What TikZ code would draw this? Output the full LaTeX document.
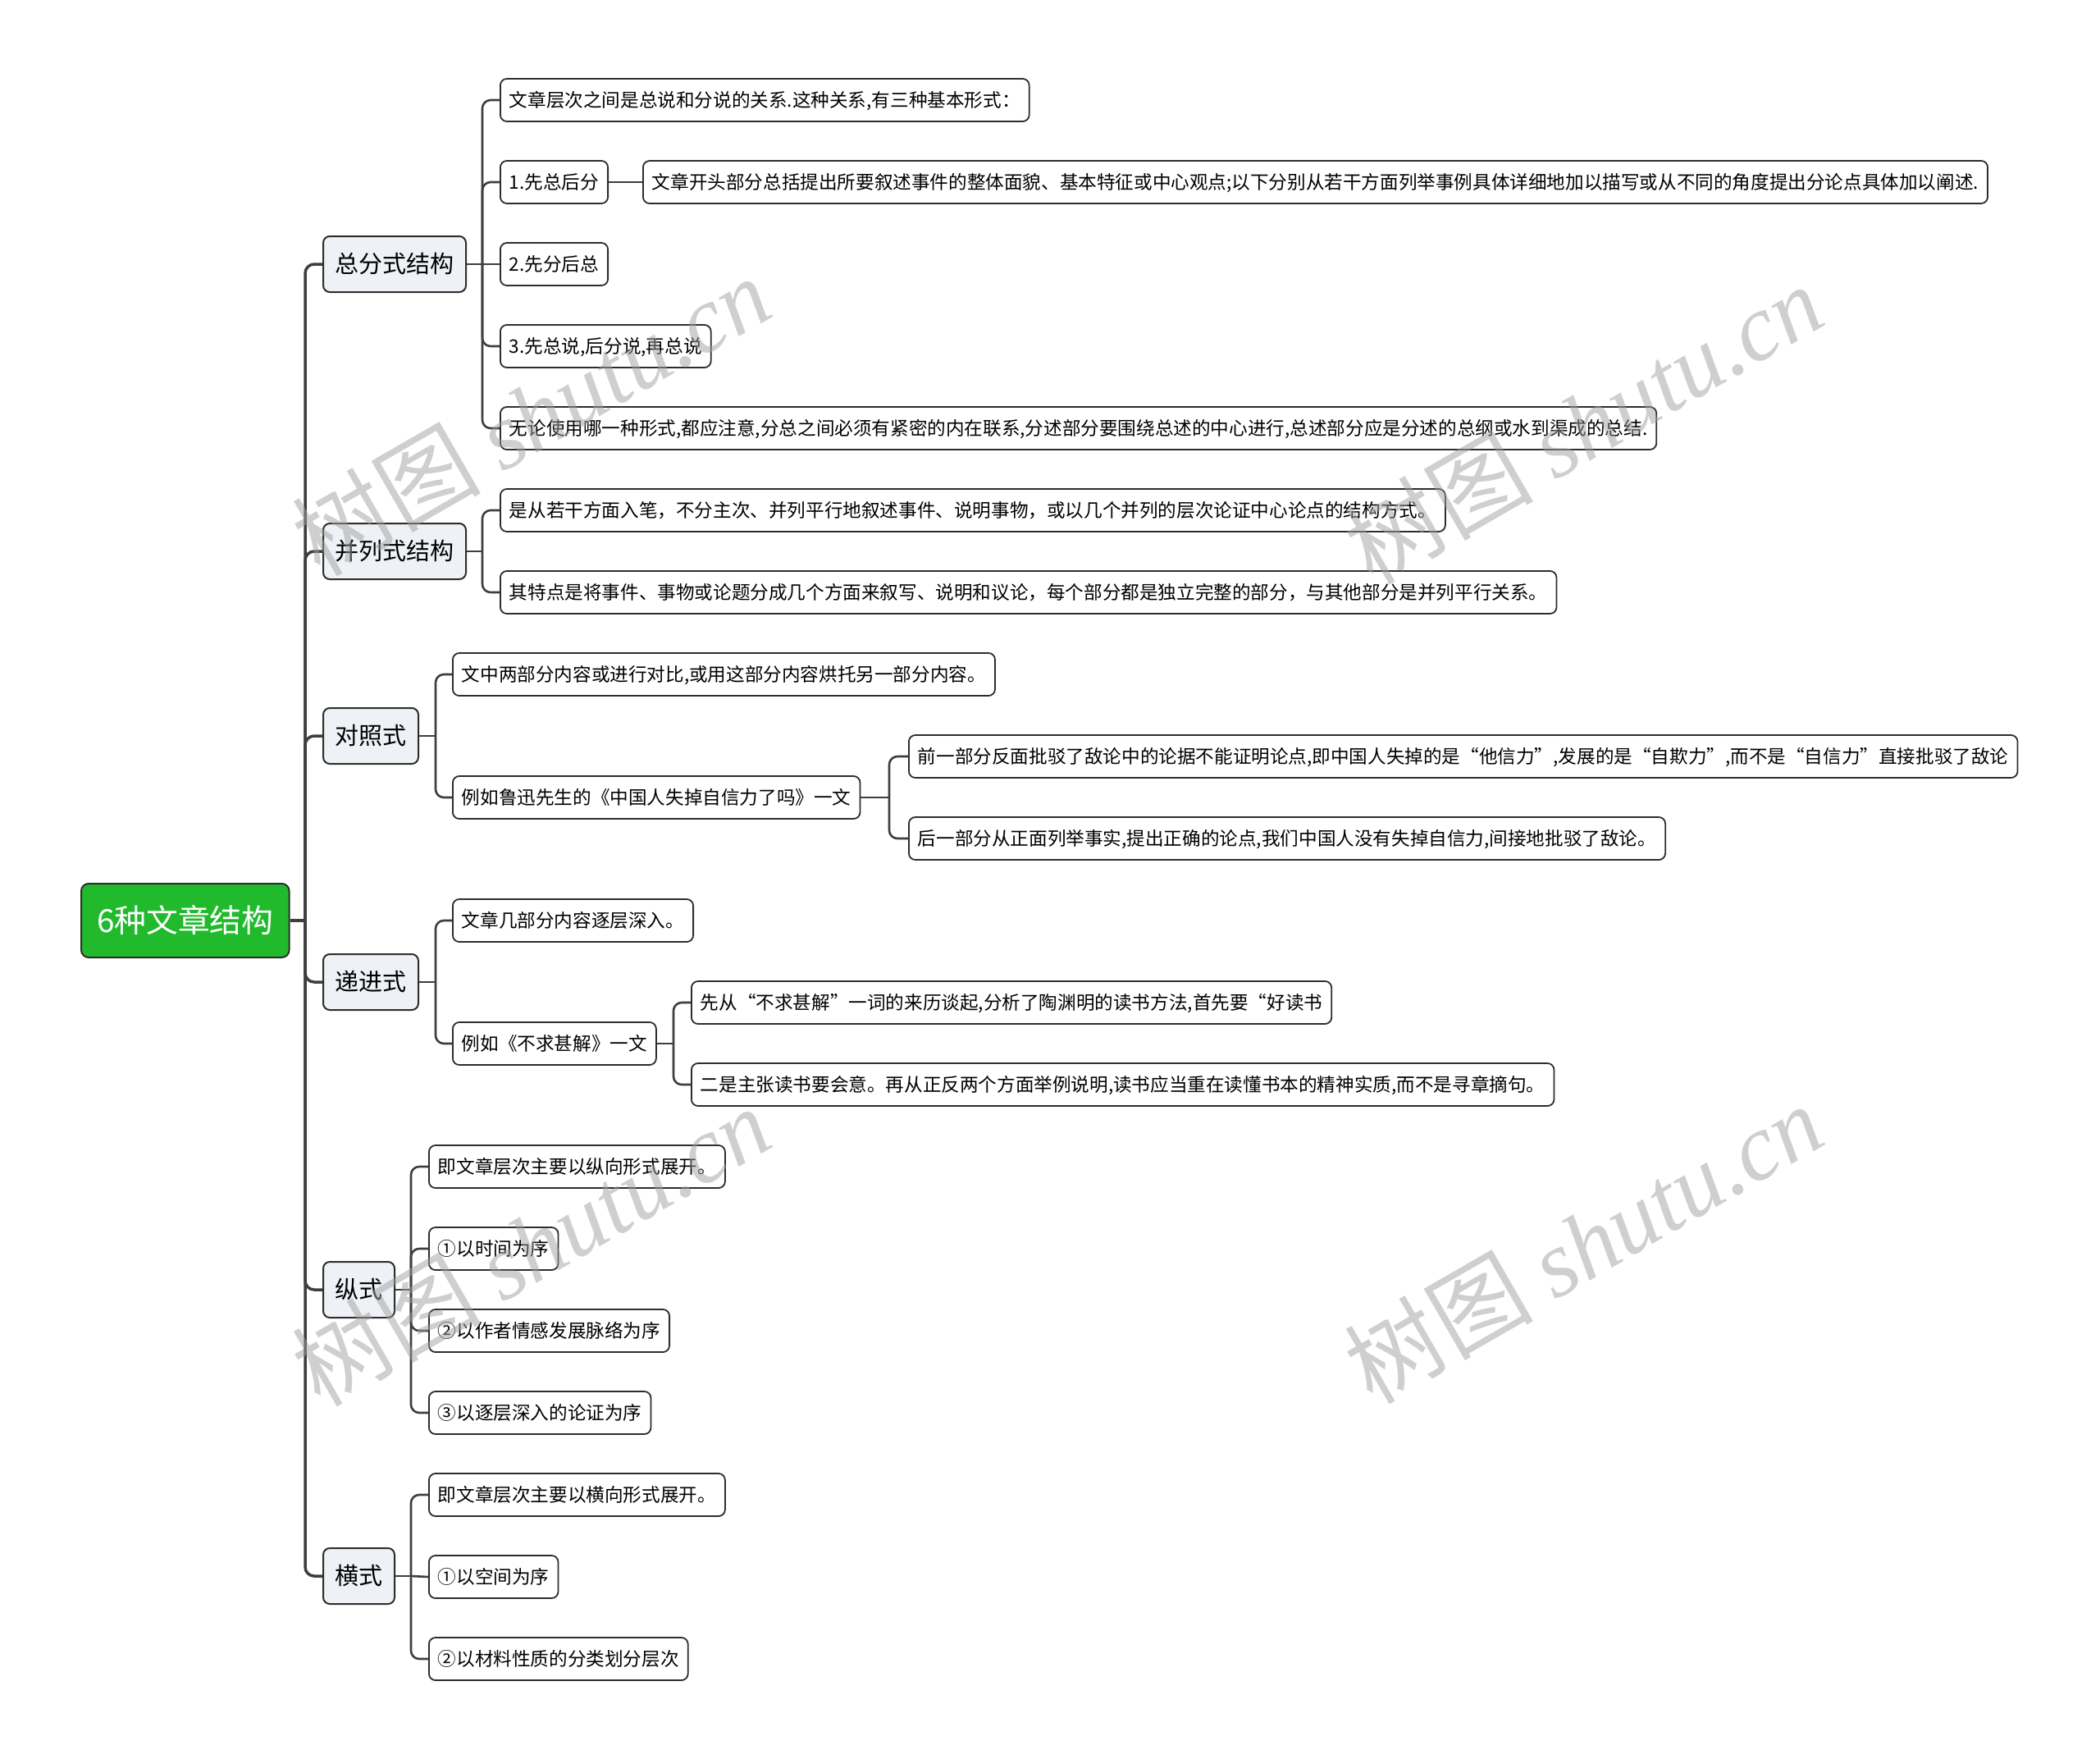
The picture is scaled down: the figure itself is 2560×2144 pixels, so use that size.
\documentclass[tikz,border=0pt]{standalone}
\usepackage{fontspec}
\newfontfamily\cjk{Noto Sans CJK SC}
\newfontfamily\wmserif{Liberation Serif}
\usetikzlibrary{positioning}
\definecolor{rootgreen}{RGB}{32,186,44}
\definecolor{topicfill}{RGB}{238,242,246}
\definecolor{linegray}{RGB}{62,62,62}
\definecolor{boxline}{RGB}{45,45,45}
\definecolor{wmgray}{RGB}{160,160,160}

\begin{document}
\begin{tikzpicture}[x=1pt,y=-1pt,
  rootbox/.style={draw=boxline,line width=2pt,fill=rootgreen,rounded corners=9pt,anchor=west,
    minimum height=90pt,inner xsep=19pt,text=white,font=\cjk\fontsize{38.8}{44}\selectfont,
    text height=33.4pt,text depth=4.7pt},
  topic/.style={draw=boxline,line width=2pt,fill=topicfill,rounded corners=8pt,anchor=west,
    minimum height=68pt,inner xsep=14.5pt,font=\cjk\fontsize{29}{34}\selectfont,
    text height=25pt,text depth=3.5pt},
  leaf/.style={draw=boxline,line width=1.8pt,fill=white,rounded corners=8pt,anchor=west,
    minimum height=52pt,inner xsep=11pt,font=\cjk\fontsize{22.6}{27}\selectfont,
    text height=19.4pt,text depth=2.7pt},
  trunk/.style={draw=linegray,line width=3.5pt,rounded corners=11pt},
  link/.style={draw=linegray,line width=2.6pt,rounded corners=10pt},
  wmark/.style={text=wmgray,opacity=0.5,rotate=30,font=\fontsize{115}{120}\selectfont}]
  \useasboundingbox (0,0) rectangle (2560,2144);

  \node[rootbox] (root) at (98,1122) {6种文章结构};

  \node[topic] (zf) at (393,322) {总分式结构};
  \node[topic] (bl) at (393,672) {并列式结构};
  \node[topic] (dz) at (393,897) {对照式};
  \node[topic] (dj) at (393,1197) {递进式};
  \node[topic] (zs) at (393,1572) {纵式};
  \node[topic] (hs) at (393,1921) {横式};

  \node[leaf] (zf1) at (609,122) {文章层次之间是总说和分说的关系.这种关系,有三种基本形式：};
  \node[leaf] (zf2) at (609,222) {1.先总后分};
  \node[leaf] (zf2a) at (783,222) {文章开头部分总括提出所要叙述事件的整体面貌、基本特征或中心观点;以下分别从若干方面列举事例具体详细地加以描写或从不同的角度提出分论点具体加以阐述.};
  \node[leaf] (zf3) at (609,322) {2.先分后总};
  \node[leaf] (zf4) at (609,422) {3.先总说,后分说,再总说};
  \node[leaf] (zf5) at (609,522) {无论使用哪一种形式,都应注意,分总之间必须有紧密的内在联系,分述部分要围绕总述的中心进行,总述部分应是分述的总纲或水到渠成的总结.};

  \node[leaf] (bl1) at (609,622) {是从若干方面入笔，不分主次、并列平行地叙述事件、说明事物，或以几个并列的层次论证中心论点的结构方式。};
  \node[leaf] (bl2) at (609,722) {其特点是将事件、事物或论题分成几个方面来叙写、说明和议论，每个部分都是独立完整的部分，与其他部分是并列平行关系。};

  \node[leaf] (dz1) at (551,822) {文中两部分内容或进行对比,或用这部分内容烘托另一部分内容。};
  \node[leaf] (dz2) at (551,972) {例如鲁迅先生的《中国人失掉自信力了吗》一文};
  \node[leaf] (dz2a) at (1107,922) {前一部分反面批驳了敌论中的论据不能证明论点,即中国人失掉的是“他信力”,发展的是“自欺力”,而不是“自信力”直接批驳了敌论};
  \node[leaf] (dz2b) at (1107,1022) {后一部分从正面列举事实,提出正确的论点,我们中国人没有失掉自信力,间接地批驳了敌论。};

  \node[leaf] (dj1) at (551,1122) {文章几部分内容逐层深入。};
  \node[leaf] (dj2) at (551,1272) {例如《不求甚解》一文};
  \node[leaf] (dj2a) at (842,1222) {先从“不求甚解”一词的来历谈起,分析了陶渊明的读书方法,首先要“好读书};
  \node[leaf] (dj2b) at (842,1322) {二是主张读书要会意。再从正反两个方面举例说明,读书应当重在读懂书本的精神实质,而不是寻章摘句。};

  \node[leaf] (zs1) at (522,1422) {即文章层次主要以纵向形式展开。};
  \node[leaf] (zs2) at (522,1522) {①以时间为序};
  \node[leaf] (zs3) at (522,1622) {②以作者情感发展脉络为序};
  \node[leaf] (zs4) at (522,1722) {③以逐层深入的论证为序};

  \node[leaf] (hs1) at (522,1822) {即文章层次主要以横向形式展开。};
  \node[leaf] (hs2) at (522,1922) {①以空间为序};
  \node[leaf] (hs3) at (522,2022) {②以材料性质的分类划分层次};

  \coordinate (rootb) at (372,1122);
  \coordinate (zfb) at (588,322);
  \coordinate (blb) at (588,672);
  \coordinate (dzb) at (531,897);
  \coordinate (dz2b_) at (1084,972);
  \coordinate (djb) at (531,1197);
  \coordinate (dj2b_) at (821,1272);
  \coordinate (zsb) at (501,1572);
  \coordinate (hsb) at (501,1921);

  \draw[trunk] (root.east) -- (rootb);
  \draw[trunk] (rootb) |- (zf.west);
  \draw[trunk] (rootb) |- (bl.west);
  \draw[trunk] (rootb) |- (dz.west);
  \draw[trunk] (rootb) |- (dj.west);
  \draw[trunk] (rootb) |- (zs.west);
  \draw[trunk] (rootb) |- (hs.west);

  \draw[link] (zf.east) -- (zfb);
  \draw[link] (zfb) |- (zf1.west);
  \draw[link] (zfb) |- (zf2.west);
  \draw[link] (zfb) -- (zf3.west);
  \draw[link] (zfb) |- (zf4.west);
  \draw[link] (zfb) |- (zf5.west);
  \draw[link] (zf2.east) -- (zf2a.west);

  \draw[link] (bl.east) -- (blb);
  \draw[link] (blb) |- (bl1.west);
  \draw[link] (blb) |- (bl2.west);

  \draw[link] (dz.east) -- (dzb);
  \draw[link] (dzb) |- (dz1.west);
  \draw[link] (dzb) |- (dz2.west);
  \draw[link] (dz2.east) -- (dz2b_);
  \draw[link] (dz2b_) |- (dz2a.west);
  \draw[link] (dz2b_) |- (dz2b.west);

  \draw[link] (dj.east) -- (djb);
  \draw[link] (djb) |- (dj1.west);
  \draw[link] (djb) |- (dj2.west);
  \draw[link] (dj2.east) -- (dj2b_);
  \draw[link] (dj2b_) |- (dj2a.west);
  \draw[link] (dj2b_) |- (dj2b.west);

  \draw[link] (zs.east) -- (zsb);
  \draw[link] (zsb) |- (zs1.west);
  \draw[link] (zsb) |- (zs2.west);
  \draw[link] (zsb) |- (zs3.west);
  \draw[link] (zsb) |- (zs4.west);

  \draw[link] (hs.east) -- (hsb);
  \draw[link] (hsb) |- (hs1.west);
  \draw[link] (hsb) -- (hs2.west);
  \draw[link] (hsb) |- (hs3.west);

  \node[wmark] (wm1) at (647,506) {\cjk 树图 \wmserif\itshape shutu.cn};
  \node[wmark] (wm2) at (1930,516) {\cjk 树图 \wmserif\itshape shutu.cn};
  \node[wmark] (wm3) at (647,1518) {\cjk 树图 \wmserif\itshape shutu.cn};
  \node[wmark] (wm4) at (1930,1515) {\cjk 树图 \wmserif\itshape shutu.cn};
\end{tikzpicture}
\end{document}
